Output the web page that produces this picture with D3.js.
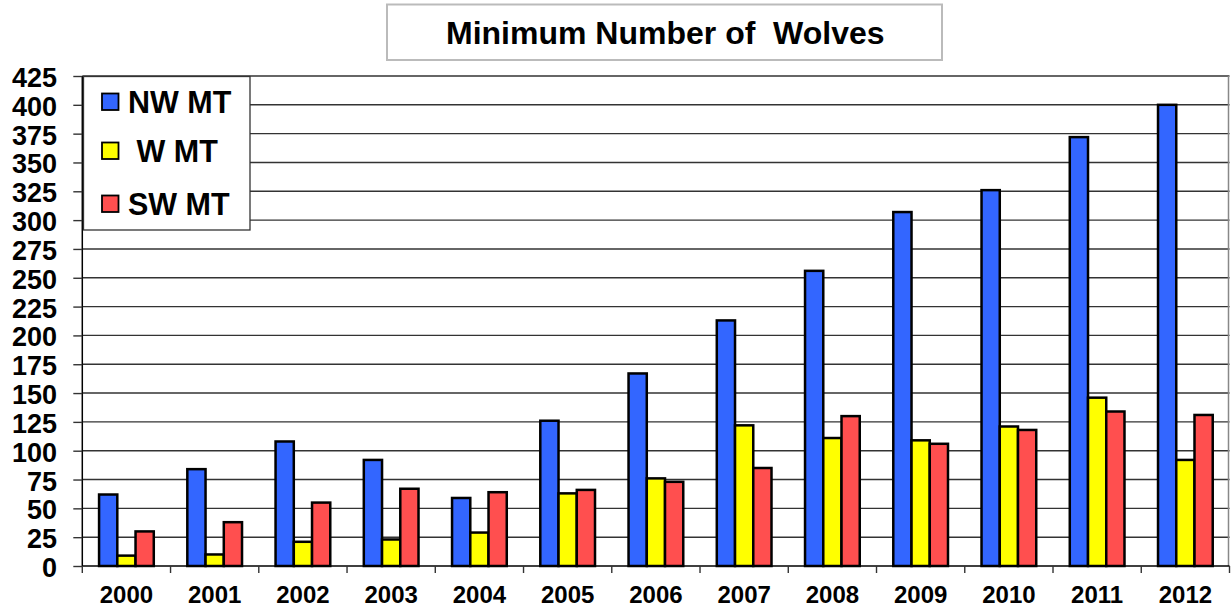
<!DOCTYPE html>
<html>
<head>
<meta charset="utf-8">
<script src="https://cdn.jsdelivr.net/npm/d3@7"></script>
<style>
  html, body { margin: 0; padding: 0; background: #fff; }
  svg { display: block; font-family: "Liberation Sans", Arial, sans-serif; font-weight: bold; }
</style>
</head>
<body>
<svg id="chart" width="1231" height="611"></svg>
<script>
const years = ["2000","2001","2002","2003","2004","2005","2006","2007","2008","2009","2010","2011","2012"];
const seriesNames = ["NW MT", " W MT", "SW MT"];
const nwMT = [62, 84, 108, 92, 59, 126, 167, 213, 256, 307, 326, 372, 400];
const wMT  = [9, 10, 21, 23, 29, 63, 76, 122, 111, 109, 121, 146, 92];
const swMT = [30, 38, 55, 67, 64, 66, 73, 85, 130, 106, 118, 134, 131];
const yTicks = [0,25,50,75,100,125,150,175,200,225,250,275,300,325,350,375,400,425];
const colors = ["#3366FF", "#FFFF00", "#FF4F4F"];
const titleText = "Minimum Number of  Wolves";

const allSeries = [nwMT, wMT, swMT];
const svg = d3.select("#chart");

const pLeft = 82.3, pRight = 1229.5, pTop = 76, pBottom = 566;

const x0 = d3.scaleBand().domain(years).range([pLeft, pRight]).padding(0);
const bw = x0.bandwidth();
const x1 = d3.scaleBand().domain(d3.range(seriesNames.length)).range([bw * 0.19, bw * 0.81]).padding(0);
const y = d3.scaleLinear().domain([0, 425]).range([pBottom, pTop]);

// gridlines
svg.append("g").selectAll("line").data(yTicks.filter(d => d > 0)).join("line")
  .attr("x1", pLeft).attr("x2", pRight)
  .attr("y1", d => y(d)).attr("y2", d => y(d))
  .attr("stroke", "#333").attr("stroke-width", 1.4);

// right border
svg.append("line").attr("x1", pRight - 1).attr("x2", pRight - 1).attr("y1", pTop).attr("y2", pBottom)
  .attr("stroke", "#888").attr("stroke-width", 1.5);

// bars
const groups = svg.append("g").selectAll("g").data(years).join("g")
  .attr("transform", d => `translate(${x0(d)},0)`);
groups.selectAll("rect").data((d, i) => allSeries.map((s, k) => ({k, v: s[i]}))).join("rect")
  .attr("x", d => x1(d.k))
  .attr("width", x1.bandwidth())
  .attr("y", d => y(d.v))
  .attr("height", d => y(0) - y(d.v))
  .attr("fill", d => colors[d.k])
  .attr("stroke", "#000").attr("stroke-width", 2.5);

// y axis
const yAxis = svg.append("g").attr("transform", `translate(${pLeft},0)`)
  .call(d3.axisLeft(y).tickValues(yTicks).tickSize(9).tickPadding(0).tickFormat(d3.format("d")));
yAxis.select(".domain").attr("stroke", "#000").attr("stroke-width", 1.5).attr("d", `M0,${pTop}V${pBottom}`);
yAxis.selectAll(".tick line").attr("stroke", "#333").attr("stroke-width", 1.4);
yAxis.selectAll(".tick text")
  .attr("x", 57 - pLeft).attr("dy", null).attr("y", 10.5)
  .attr("text-anchor", "end")
  .attr("font-size", "27px").attr("font-weight", "bold").attr("fill", "#000")
  .attr("font-family", "'Liberation Sans', Arial, sans-serif");

// x axis
const xAxis = svg.append("g").attr("transform", `translate(0,${pBottom})`)
  .call(d3.axisBottom(x0).tickSize(0).tickPadding(0));
xAxis.select(".domain").attr("stroke", "#000").attr("stroke-width", 1.5).attr("d", `M${pLeft},0H${pRight}`);
xAxis.selectAll(".tick text")
  .attr("y", 37).attr("dy", null)
  .attr("font-size", "24px").attr("font-weight", "bold").attr("fill", "#000")
  .attr("font-family", "'Liberation Sans', Arial, sans-serif");
xAxis.append("g").selectAll("line").data(years.concat(["end"])).join("line")
  .attr("x1", (d, i) => pLeft + i * bw).attr("x2", (d, i) => pLeft + i * bw)
  .attr("y1", 0).attr("y2", 7)
  .attr("stroke", "#333").attr("stroke-width", 1.4);

// title
svg.append("rect").attr("x", 387).attr("y", 4.5).attr("width", 555).attr("height", 55.5)
  .attr("fill", "#fff").attr("stroke", "#bbb").attr("stroke-width", 2);
svg.append("text").attr("x", 446).attr("y", 43.5)
  .attr("xml:space", "preserve").style("white-space", "pre")
  .attr("font-size", "32px").attr("fill", "#000")
  .text(titleText);

// legend
const lg = svg.append("g");
lg.append("rect").attr("x", 83.5).attr("y", 76.5).attr("width", 166.5).attr("height", 153.5)
  .attr("fill", "#fff").attr("stroke", "#333").attr("stroke-width", 1.3);
const legendBase = [113, 162, 215];
seriesNames.forEach((name, k) => {
  lg.append("rect").attr("x", 102).attr("y", legendBase[k] - 19.5).attr("width", 16.5).attr("height", 16.5)
    .attr("fill", colors[k]).attr("stroke", "#000").attr("stroke-width", 1.8);
  lg.append("text").attr("x", 128).attr("y", legendBase[k])
    .attr("xml:space", "preserve").style("white-space", "pre")
    .attr("font-size", "30.5px").attr("fill", "#000").text(name);
});
</script>
</body>
</html>
